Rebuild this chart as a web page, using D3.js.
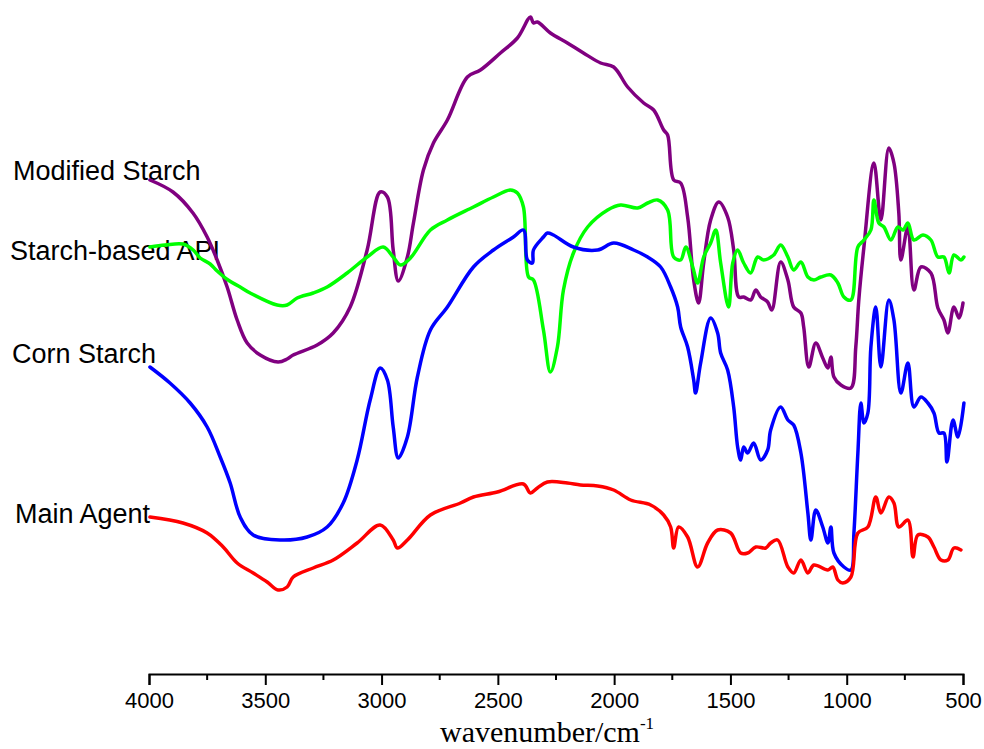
<!DOCTYPE html>
<html lang="en">
<head>
    <meta charset="UTF-8">
    <title>FTIR Spectra</title>
    <script src="https://d3js.org/d3.v7.min.js"></script>
    <style>
        body { margin: 0; background: #fff; }
        .tick text { font-family: Arial, "Liberation Sans", sans-serif; }
        .lbl { font-family: Arial, "Liberation Sans", sans-serif; font-size: 27px; fill: #000; }
        .line { fill: none; stroke-width: 3.5; stroke-linejoin: round; stroke-linecap: round; }
    </style>
</head>
<body>
<svg id="chart" width="984" height="749"></svg>

<script>
    // wavenumber (cm-1) and relative transmittance (a.u.)
    var modWn = [3996, 3897, 3811, 3750, 3707, 3664, 3621, 3578, 3522, 3445, 3406, 3380, 3277, 3208, 3135, 3062, 3006, 2975, 2950, 2928, 2889, 2863, 2820, 2777, 2717, 2631, 2575, 2489, 2416, 2360, 2347, 2330, 2274, 2201, 2132, 2058, 2002, 1942, 1873, 1830, 1787, 1770, 1744, 1714, 1684, 1658, 1637, 1615, 1585, 1550, 1512, 1486, 1464, 1443, 1413, 1391, 1370, 1340, 1322, 1284, 1253, 1228, 1197, 1185, 1163, 1133, 1103, 1081, 1068, 1055, 1025, 982, 961, 948, 926, 883, 853, 819, 797, 776, 767, 737, 711, 681, 638, 608, 582, 565, 539, 517, 500];
    var modT = [494, 482, 461, 437, 414, 387, 354, 331, 319, 312, 315, 319, 329, 341, 367, 424, 482, 477, 424, 393, 417, 451, 504, 531, 554, 597, 604, 621, 636, 657, 651, 652, 641, 631, 621, 611, 607, 587, 571, 564, 544, 539, 494, 491, 457, 394, 371, 411, 454, 472, 457, 424, 377, 377, 374, 384, 377, 372, 364, 412, 394, 367, 361, 347, 307, 331, 316, 306, 317, 297, 289, 286, 327, 374, 427, 511, 454, 526, 511, 461, 414, 447, 384, 407, 401, 366, 354, 341, 367, 356, 371];

    var apiWn = [3996, 3931, 3854, 3810, 3780, 3737, 3707, 3660, 3608, 3565, 3449, 3406, 3363, 3294, 3234, 3148, 3062, 2993, 2950, 2919, 2876, 2790, 2717, 2605, 2519, 2446, 2416, 2390, 2368, 2347, 2304, 2274, 2244, 2218, 2175, 2114, 2028, 1972, 1899, 1856, 1813, 1770, 1744, 1714, 1692, 1662, 1641, 1615, 1585, 1563, 1542, 1508, 1490, 1469, 1443, 1413, 1383, 1357, 1314, 1284, 1253, 1228, 1197, 1167, 1141, 1111, 1068, 1038, 1012, 982, 952, 926, 896, 883, 862, 840, 810, 780, 758, 737, 711, 672, 638, 608, 582, 560, 539, 509, 496];
    var apiT = [427, 429, 430, 424, 416, 410, 403, 394, 387, 381, 369, 369, 376, 381, 387, 401, 417, 427, 417, 409, 416, 444, 454, 467, 477, 484, 481, 467, 397, 394, 344, 302, 327, 384, 421, 447, 464, 469, 466, 471, 474, 464, 417, 414, 427, 407, 391, 417, 431, 444, 411, 367, 411, 424, 411, 401, 417, 414, 419, 429, 417, 404, 412, 397, 394, 397, 399, 391, 377, 374, 427, 434, 444, 474, 451, 447, 434, 447, 444, 451, 434, 439, 434, 417, 417, 401, 419, 414, 417];

    var cornWn = [3996, 3910, 3823, 3750, 3694, 3651, 3608, 3552, 3436, 3320, 3234, 3165, 3105, 3049, 3006, 2975, 2950, 2928, 2889, 2846, 2790, 2717, 2605, 2519, 2433, 2390, 2373, 2351, 2347, 2304, 2287, 2261, 2175, 2071, 2002, 1916, 1856, 1800, 1757, 1727, 1714, 1684, 1658, 1650, 1628, 1585, 1555, 1542, 1512, 1486, 1469, 1456, 1443, 1426, 1400, 1370, 1340, 1327, 1284, 1253, 1228, 1197, 1167, 1154, 1133, 1103, 1081, 1068, 1055, 1012, 982, 969, 952, 939, 926, 909, 896, 875, 853, 819, 797, 767, 737, 711, 681, 651, 625, 603, 582, 569, 543, 522, 496];
    var cornT = [307, 291, 271, 247, 217, 191, 157, 139, 134, 137, 147, 171, 214, 274, 306, 294, 247, 216, 237, 297, 344, 367, 407, 424, 437, 444, 414, 411, 424, 437, 441, 439, 427, 424, 431, 424, 417, 407, 387, 367, 347, 327, 294, 281, 311, 356, 341, 321, 304, 267, 227, 214, 227, 221, 231, 214, 224, 244, 267, 254, 249, 221, 161, 134, 164, 147, 131, 147, 121, 107, 104, 141, 221, 271, 251, 261, 327, 367, 307, 374, 354, 281, 311, 267, 277, 271, 261, 241, 241, 212, 254, 237, 271];

    var mainWn = [3996, 3854, 3750, 3681, 3621, 3552, 3492, 3445, 3406, 3380, 3294, 3208, 3105, 3006, 2950, 2932, 2889, 2790, 2661, 2605, 2502, 2390, 2360, 2330, 2287, 2201, 2145, 2071, 2002, 1929, 1843, 1787, 1757, 1744, 1723, 1684, 1641, 1598, 1555, 1499, 1456, 1426, 1391, 1348, 1327, 1297, 1253, 1228, 1197, 1167, 1141, 1081, 1060, 1038, 1017, 982, 952, 909, 875, 853, 819, 797, 776, 737, 715, 694, 651, 625, 595, 565, 539, 509];
    var mainT = [157, 151, 141, 127, 111, 101, 92, 84, 87, 97, 106, 114, 131, 149, 134, 126, 134, 159, 171, 177, 182, 190, 181, 186, 192, 191, 189, 188, 184, 174, 169, 159, 147, 126, 147, 137, 107, 131, 144, 141, 121, 121, 127, 126, 131, 134, 107, 101, 114, 101, 109, 104, 107, 94, 91, 97, 141, 147, 177, 161, 177, 171, 147, 154, 117, 139, 137, 127, 114, 114, 126, 124];

    var names = ["Modified Starch", "Starch-based API", "Corn Starch", "Main Agent"];
    var colors = ["#800080", "#00ff00", "#0000ff", "#ff0000"];
    var majorTicks = [4000, 3500, 3000, 2500, 2000, 1500, 1000, 500];
    var minorTicks = [3750, 3250, 2750, 2250, 1750, 1250, 750];

    var svg = d3.select("#chart");

    var x = d3.scaleLinear().domain([4000, 500]).range([149, 963]);
    var y = d3.scaleLinear().domain([0, 674]).range([674, 0]);

    var series = [
        { name: names[0], color: colors[0], wn: modWn, t: modT, lx: 13, ly: 180 },
        { name: names[1], color: colors[1], wn: apiWn, t: apiT, lx: 10, ly: 260 },
        { name: names[2], color: colors[2], wn: cornWn, t: cornT, lx: 12, ly: 363 },
        { name: names[3], color: colors[3], wn: mainWn, t: mainT, lx: 15, ly: 523 }
    ];

    var line = d3.line()
        .x(function(d) { return x(d[0]); })
        .y(function(d) { return y(d[1]); })
        .curve(d3.curveCatmullRom.alpha(0.5));

    // labels first so curves draw over them
    svg.selectAll(".lbl")
        .data(series)
        .enter().append("text")
        .attr("class", "lbl")
        .attr("x", function(d) { return d.lx; })
        .attr("y", function(d) { return d.ly; })
        .text(function(d) { return d.name; });

    svg.selectAll(".line")
        .data(series)
        .enter().append("path")
        .attr("class", "line")
        .attr("stroke", function(d) { return d.color; })
        .attr("d", function(d) {
            return line(d.wn.map(function(w, i) { return [w, d.t[i]]; }));
        });

    // x axis
    var axis = svg.append("g")
        .attr("transform", "translate(0,674)")
        .call(d3.axisBottom(x).tickValues(majorTicks).tickSize(11).tickPadding(7).tickFormat(d3.format("d")));
    axis.select(".domain").attr("stroke", "#000").attr("stroke-width", 2);
    axis.selectAll(".tick line").attr("stroke-width", 2);
    axis.selectAll(".tick text").attr("font-size", "22px").attr("fill", "#000");

    axis.selectAll(".minor")
        .data(minorTicks)
        .enter().append("line")
        .attr("class", "minor")
        .attr("x1", function(d) { return x(d); })
        .attr("x2", function(d) { return x(d); })
        .attr("y1", 0)
        .attr("y2", 6)
        .attr("stroke", "#000")
        .attr("stroke-width", 2);

    var xl = svg.append("text")
        .attr("x", 440)
        .attr("y", 742)
        .attr("font-family", "'Liberation Serif', 'DejaVu Serif', serif")
        .attr("font-size", "30px")
        .attr("fill", "#000")
        .text("wavenumber/cm");
    xl.append("tspan")
        .attr("dy", -13)
        .attr("font-size", "17px")
        .text("-1");
</script>
</body>
</html>
